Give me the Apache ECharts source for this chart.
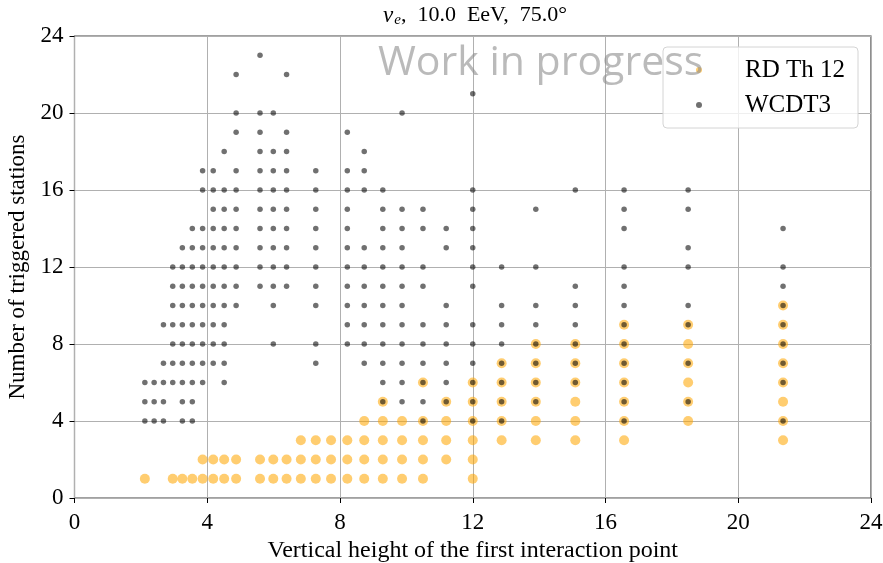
<!DOCTYPE html>
<html>
<head>
<meta charset="utf-8">
<script src="https://cdn.jsdelivr.net/npm/echarts@6/dist/echarts.min.js"></script>
<style>
html, body { margin: 0; padding: 0; background: #fff; }
#main { width: 883px; height: 563px; }
</style>
</head>
<body>
<div id="main"></div>
<script>
// heights of the first interaction point (one column per simulated height)
var heights = [2.12, 2.40, 2.68, 2.96, 3.25, 3.55, 3.86, 4.18, 4.51, 4.87,
	5.59, 5.99, 6.39, 6.82, 7.27, 7.73, 8.22, 8.73, 9.29, 9.87,
	10.50, 11.20, 12.00, 12.87, 13.90, 15.09, 16.56, 18.49, 21.35];

// WCDT3 : triggered station counts found in each column
var wcdtCounts = [
	[4, 5, 6],
	[4, 5, 6],
	[4, 5, 6, 7, 9],
	[6, 7, 8, 9, 10, 11, 12],
	[4, 5, 6, 7, 8, 9, 10, 11, 12, 13],
	[4, 5, 6, 7, 8, 9, 10, 11, 12, 13, 14],
	[6, 7, 8, 9, 10, 11, 12, 13, 14, 16, 17],
	[7, 8, 9, 10, 11, 12, 13, 14, 15, 16, 17],
	[6, 7, 8, 9, 10, 11, 12, 13, 14, 15, 16, 18],
	[10, 11, 12, 13, 14, 15, 16, 17, 19, 20, 22],
	[11, 12, 13, 14, 15, 16, 17, 18, 19, 20, 23],
	[8, 10, 11, 12, 13, 14, 15, 16, 17, 18, 20],
	[11, 12, 13, 14, 15, 16, 17, 18, 19, 22],
	[],
	[7, 8, 10, 11, 12, 13, 14, 15, 16, 17],
	[],
	[8, 9, 10, 11, 12, 13, 14, 15, 16, 17, 19],
	[7, 8, 9, 10, 11, 12, 13, 16, 17, 18],
	[5, 6, 7, 8, 9, 10, 11, 12, 13, 14, 15, 16],
	[5, 6, 7, 8, 9, 10, 11, 12, 13, 14, 15, 20],
	[4, 5, 6, 7, 8, 9, 11, 12, 14, 15],
	[5, 6, 7, 8, 9, 10, 13, 14],
	[4, 5, 6, 7, 8, 9, 11, 12, 13, 14, 15, 16, 21],
	[4, 5, 6, 7, 8, 9, 10, 12],
	[5, 6, 7, 8, 9, 10, 12, 15],
	[6, 7, 8, 9, 10, 11, 16],
	[4, 5, 6, 7, 8, 9, 10, 11, 12, 14, 15, 16],
	[5, 7, 9, 10, 12, 13, 15, 16],
	[4, 6, 7, 8, 9, 10, 11, 12, 14]
];

// RD Th 12 : triggered station counts found in each column
var rdCounts = [
	[1], [], [], [1], [1], [1],
	[1, 2], [1, 2], [1, 2], [1, 2], [1, 2], [1, 2], [1, 2],
	[1, 2, 3], [1, 2, 3], [1, 2, 3], [1, 2, 3],
	[1, 2, 3, 4],
	[1, 2, 3, 4, 5],
	[1, 2, 3, 4],
	[1, 2, 3, 4, 6],
	[2, 3, 4, 5],
	[1, 2, 3, 4, 5, 6],
	[3, 4, 5, 6, 7],
	[3, 4, 5, 6, 7, 8],
	[3, 4, 5, 6, 7, 8],
	[3, 4, 5, 6, 7, 8, 9],
	[4, 5, 6, 7, 8, 9],
	[3, 4, 5, 6, 7, 8, 9, 10]
];

var axisMin = 0, axisMax = 24, tickStep = 4;

function toPoints(counts) {
	var pts = [];
	for(var i = 0; i < heights.length; i++) {
		for(var j = 0; j < counts[i].length; j++) {
			pts.push([heights[i], counts[i][j]]);
		}
	}
	return pts;
}

var serif = 'Liberation Serif';
var myChart = echarts.init(document.getElementById('main'));

var option = {
	animation: false,
	title: {
		text: '{i|ν}{sub|e}{n|,  10.0  EeV,  75.0°}',
		left: 470,
		textAlign: 'center',
		top: -2,
		textStyle: {
			rich: {
				i: { fontFamily: serif, fontStyle: 'italic', fontWeight: 'normal', fontSize: 23, color: '#000' },
				sub: { fontFamily: serif, fontStyle: 'italic', fontWeight: 'normal', fontSize: 15, color: '#000', padding: [10, 0, 0, 1] },
				n: { fontFamily: serif, fontWeight: 'normal', fontSize: 22, color: '#000' }
			}
		}
	},
	grid: {
		left: 74.5,
		right: 12,
		top: 36,
		bottom: 65,
		outerBoundsMode: 'none',
		containLabel: false,
		show: true,
		borderColor: '#444',
		borderWidth: 1.2
	},
	legend: {
		orient: 'vertical',
		left: 663,
		top: 47,
		data: ['RD Th 12', 'WCDT3'],
		icon: 'circle',
		itemWidth: 6,
		itemHeight: 6,
		itemGap: 9,
		padding: [10, 13, 10, 33],
		borderColor: '#d4d4d4',
		borderWidth: 1,
		borderRadius: 4,
		backgroundColor: 'rgba(255,255,255,0.8)',
		textStyle: {
			fontFamily: serif,
			fontSize: 25,
			color: '#000',
			lineHeight: 26,
			padding: [0, 0, 0, 38]
		}
	},
	xAxis: {
		type: 'value',
		min: axisMin,
		max: axisMax,
		interval: tickStep,
		name: 'Vertical height of the first interaction point',
		nameLocation: 'middle',
		nameGap: 40,
		nameTextStyle: { fontFamily: serif, fontSize: 24, color: '#000' },
		axisLine: { show: false },
		axisTick: { show: true, length: 5, lineStyle: { color: '#000' } },
		axisLabel: { fontFamily: serif, fontSize: 23, color: '#000', margin: 13 },
		splitLine: { lineStyle: { color: '#b0b0b0', width: 1 } }
	},
	yAxis: {
		type: 'value',
		min: axisMin,
		max: axisMax,
		interval: tickStep,
		name: 'Number of triggered stations',
		nameLocation: 'middle',
		nameGap: 43,
		nameTextStyle: { fontFamily: serif, fontSize: 23, color: '#000' },
		axisLine: { show: false },
		axisTick: { show: true, length: 5, lineStyle: { color: '#000' } },
		axisLabel: { fontFamily: serif, fontSize: 23, color: '#000', margin: 11 },
		splitLine: { lineStyle: { color: '#b0b0b0', width: 1 } }
	},
	series: [
		{
			name: 'RD Th 12',
			type: 'scatter',
			symbolSize: 10,
			itemStyle: { color: 'rgba(255,165,0,0.7)' },
			data: toPoints(rdCounts)
		},
		{
			name: 'WCDT3',
			type: 'scatter',
			symbolSize: 5.5,
			itemStyle: { color: 'rgba(0,0,0,0.7)' },
			data: toPoints(wcdtCounts)
		}
	],
	graphic: [
		{
			type: 'text',
			left: 378,
			top: 43,
			z: 100,
			style: {
				text: 'Work in progress',
				font: '41px "Open Sans"',
				fill: 'rgba(140,140,140,0.6)'
			}
		}
	]
};
myChart.setOption(option);
</script>
</body>
</html>
